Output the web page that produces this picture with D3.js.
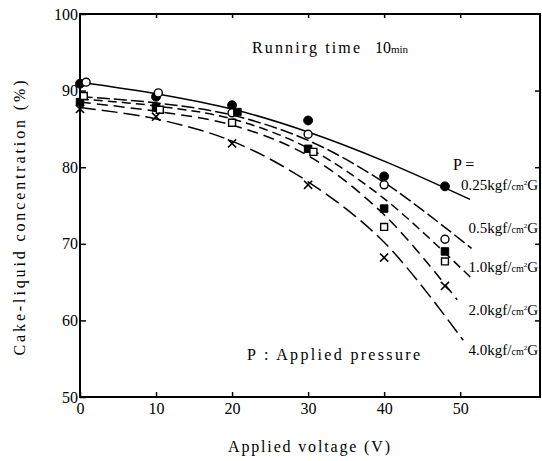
<!DOCTYPE html>
<html>
<head>
<meta charset="utf-8">
<script src="https://cdn.jsdelivr.net/npm/d3@7"></script>
<style>
  html, body { margin: 0; padding: 0; background: #fff; }
  svg { display: block; }
  svg text { font-family: "Liberation Serif", "DejaVu Serif", serif; fill: #000; }
</style>
</head>
<body>
<svg id="chart" width="542" height="461" font-family="Liberation Serif, DejaVu Serif, serif"></svg>
<script>
// ---- Data ----
const xTicks = [0, 10, 20, 30, 40, 50];
const yTicks = [50, 60, 70, 80, 90, 100];

// measured points: [voltage, concentration]
const pts025 = [[0, 90.9], [10, 89.2], [20, 88.1], [30, 86.1], [40, 78.8], [48, 77.5]];
const pts05  = [[0.8, 91.1], [10.3, 89.7], [20, 87.1], [30, 84.3], [40, 77.7], [48, 70.6]];
const pts10  = [[0, 88.5], [10, 87.8], [20.7, 87.2], [30, 82.4], [40, 74.6], [48, 69.0]];
const pts20  = [[0.5, 89.3], [10.5, 87.5], [20, 85.8], [30.7, 82.0], [40, 72.2], [48, 67.7]];
const pts40  = [[0, 87.6], [10, 86.6], [20, 83.1], [30, 77.7], [40, 68.2], [48, 64.5]];

// fitted curves
const curve025 = [[0, 91.1], [10, 89.6], [20, 87.6], [30, 84.6], [40, 80.8], [51.3, 75.8]];
const curve05  = [[0, 89.2], [10, 88.4], [20, 86.8], [30, 83.5], [40, 78.0], [51.5, 69.4]];
const curve10  = [[0, 88.9], [10, 88.0], [20, 86.3], [30, 82.5], [40, 75.9], [51.7, 65.3]];
const curve20  = [[0, 88.5], [10, 87.3], [20, 85.5], [30, 81.5], [40, 73.8], [49.6, 62.7]];
const curve40  = [[0, 87.8], [10, 86.3], [20, 83.4], [30, 78.1], [40, 70.2], [50.4, 57.4]];

const pressureLabels = ["0.25", "0.5", "1.0", "2.0", "4.0"];

// ---- Layout ----
const FONT = '"Liberation Serif", "DejaVu Serif", serif';
const svg = d3.select("#chart");
const mLeft = 80, mRight = 540, mTop = 14, mBottom = 397;
const x = d3.scaleLinear().domain([0, 60.5]).range([mLeft, mRight]);
const y = d3.scaleLinear().domain([50, 100]).range([mBottom, mTop]);

// frame
svg.append("rect")
  .attr("x", mLeft).attr("y", mTop)
  .attr("width", mRight - mLeft).attr("height", mBottom - mTop)
  .attr("fill", "none").attr("stroke", "#000").attr("stroke-width", 2);

// axes (ticks pointing inward)
const gx = svg.append("g").attr("transform", `translate(0,${mBottom})`)
  .call(d3.axisBottom(x).tickValues(xTicks).tickSize(-5).tickPadding(6).tickFormat(d3.format("d")));
const gy = svg.append("g").attr("transform", `translate(${mLeft},0)`)
  .call(d3.axisLeft(y).tickValues(yTicks).tickSize(-6).tickPadding(2).tickFormat(d3.format("d")));
const gxTop = svg.append("g").attr("transform", `translate(0,${mTop})`)
  .call(d3.axisTop(x).tickValues(xTicks.slice(1)).tickSize(-4).tickFormat(""));
const gyRight = svg.append("g").attr("transform", `translate(${mRight},0)`)
  .call(d3.axisRight(y).tickValues(yTicks.slice(1, -1)).tickSize(-5).tickFormat(""));
[gx, gy, gxTop, gyRight].forEach(g => {
  g.attr("font-family", null).attr("font-size", null);
  g.select(".domain").remove();
  g.selectAll(".tick line").attr("stroke", "#000").attr("stroke-width", 1.5);
  g.selectAll(".tick text").style("font-family", FONT).style("font-size", "16px").attr("fill", "#000");
});

// curves
const line = d3.line().x(d => x(d[0])).y(d => y(d[1])).curve(d3.curveCatmullRom.alpha(0.5));
const curves = [
  { data: curve025, dash: null },
  { data: curve05,  dash: "13,4" },
  { data: curve10,  dash: "9,5" },
  { data: curve20,  dash: "11,6" },
  { data: curve40,  dash: "16,6" }
];
svg.append("g").selectAll("path").data(curves).join("path")
  .attr("d", d => line(d.data))
  .attr("fill", "none").attr("stroke", "#000").attr("stroke-width", 1.5)
  .attr("stroke-dasharray", d => d.dash);

// markers
const series = [
  { data: pts025, type: d3.symbolCircle, size: 62, fill: "#000", sw: 1 },
  { data: pts05,  type: d3.symbolCircle, size: 50, fill: "#fff", sw: 1.4 },
  { data: pts10,  type: d3.symbolSquare, size: 56, fill: "#000", sw: 1 },
  { data: pts20,  type: d3.symbolSquare, size: 48, fill: "#fff", sw: 1.4 },
  { data: pts40,  type: d3.symbolTimes,  size: 45, fill: "none", sw: 1.6 }
];
series.forEach(s => {
  svg.append("g").selectAll("path").data(s.data).join("path")
    .attr("transform", d => `translate(${x(d[0])},${y(d[1])})`)
    .attr("d", d3.symbol().type(s.type).size(s.size))
    .attr("fill", s.fill).attr("stroke", "#000").attr("stroke-width", s.sw);
});

// series labels
svg.append("text").attr("x", 453).attr("y", 170).style("font-family", FONT).style("font-size", "16px").text("P =");
const labelY = [190, 233, 272, 315, 355];
pressureLabels.forEach((p, i) => {
  const t = svg.append("text").attr("x", 538).attr("y", labelY[i])
    .attr("text-anchor", "end").style("font-family", FONT).style("font-size", "15px");
  t.append("tspan").text(p + "kgf/");
  t.append("tspan").style("font-size", "10px").text("cm");
  t.append("tspan").style("font-size", "7px").attr("dy", -5).text("2");
  t.append("tspan").attr("dy", 5).text("G");
});

// annotations
const title = svg.append("text").attr("x", 252).attr("y", 53).style("font-family", FONT).style("font-size", "16px");
title.append("tspan").attr("textLength", 108).attr("lengthAdjust", "spacing").text("Runnirg time");
title.append("tspan").attr("x", 375).text("10");
title.append("tspan").style("font-size", "11px").text("min");

svg.append("text").attr("x", 247).attr("y", 360).style("font-family", FONT).style("font-size", "16px")
  .attr("textLength", 173).attr("lengthAdjust", "spacing")
  .text("P : Applied  pressure");

// axis titles
svg.append("text").attr("x", 228).attr("y", 452).style("font-family", FONT).style("font-size", "16px")
  .attr("textLength", 162).attr("lengthAdjust", "spacing")
  .text("Applied voltage (V)");

svg.append("text")
  .attr("transform", "translate(25,218) rotate(-90)")
  .attr("text-anchor", "middle").style("font-family", FONT).style("font-size", "16px")
  .attr("textLength", 275).attr("lengthAdjust", "spacing")
  .text("Cake-liquid concentration (%)");
</script>
</body>
</html>
